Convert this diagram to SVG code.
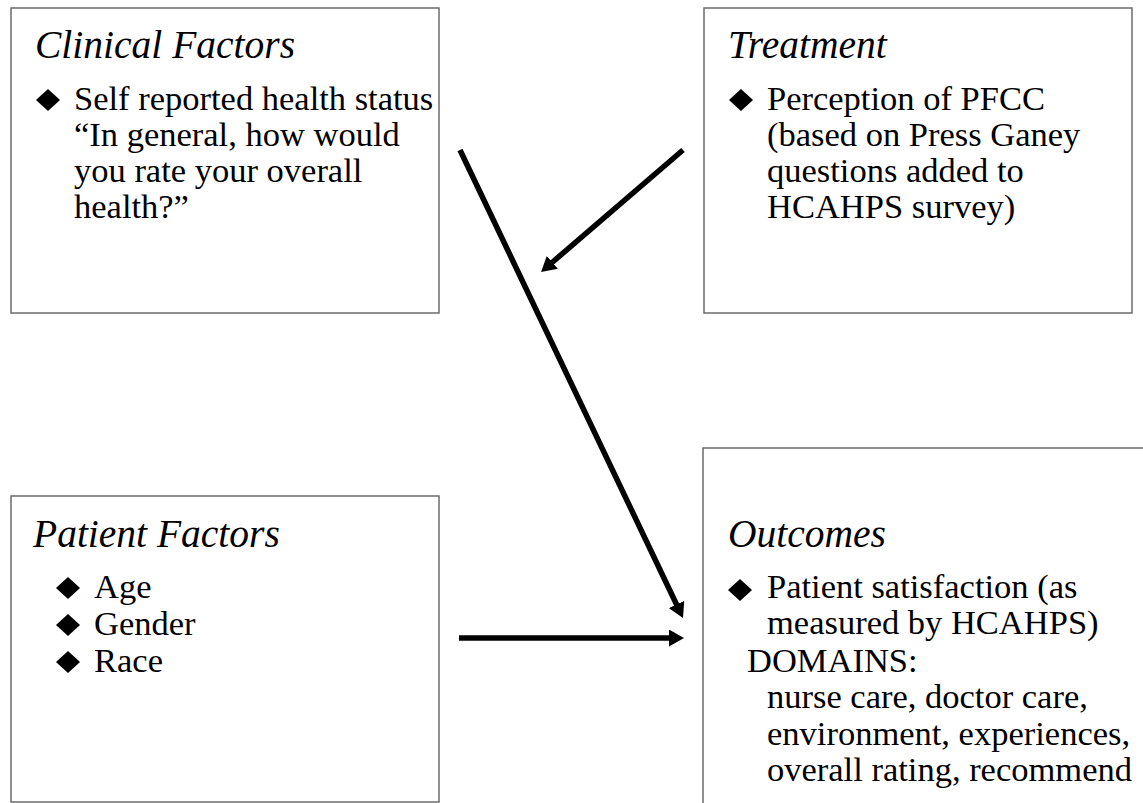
<svg xmlns="http://www.w3.org/2000/svg" width="1143" height="803" viewBox="0 0 1143 803">
<style>
.box{fill:#fff;stroke:#6b6b6b;stroke-width:1.5}
.t{font-family:'Liberation Serif', serif;font-size:34.5px;fill:#000}
.h{font-family:'Liberation Serif', serif;font-size:39.5px;font-style:italic;fill:#000}
.b{fill:#000}
.c{stroke:#000;stroke-width:5.5;fill:none}
</style>
<defs>
<marker id="ah" markerUnits="userSpaceOnUse" markerWidth="16" markerHeight="17" viewBox="0 0 16 17" refX="5" refY="8.5" orient="auto">
<path d="M0,0 L15,8.5 L0,17 z" fill="#000"/>
</marker>
</defs>
<rect width="1143" height="803" fill="#fff"/>
<g id="clinical">
<rect class="box" x="11" y="8" width="428" height="305"/>
<text class="h" font-family="Liberation Serif" x="35" y="58">Clinical Factors</text>
<polygon class="b" points="48,89 60,100 48,111 36,100"/>
<text class="t" font-family="Liberation Serif" x="74" y="110">Self reported health status</text>
<text class="t" font-family="Liberation Serif" x="74" y="146">&#8220;In general, how would</text>
<text class="t" font-family="Liberation Serif" x="74" y="182">you rate your overall</text>
<text class="t" font-family="Liberation Serif" x="74" y="218">health?&#8221;</text>
</g>
<g id="treatment">
<rect class="box" x="704" y="8" width="428" height="305"/>
<text class="h" font-family="Liberation Serif" x="728" y="58">Treatment</text>
<polygon class="b" points="741,89 753,100 741,111 729,100"/>
<text class="t" font-family="Liberation Serif" x="767" y="110">Perception of PFCC</text>
<text class="t" font-family="Liberation Serif" x="767" y="146">(based on Press Ganey</text>
<text class="t" font-family="Liberation Serif" x="767" y="182">questions added to</text>
<text class="t" font-family="Liberation Serif" x="767" y="218">HCAHPS survey)</text>
</g>
<g id="patient">
<rect class="box" x="11" y="496" width="428" height="306"/>
<text class="h" font-family="Liberation Serif" x="33" y="547">Patient Factors</text>
<polygon class="b" points="68,577 80,588 68,599 56,588"/>
<polygon class="b" points="68,614 80,625 68,636 56,625"/>
<polygon class="b" points="68,651 80,662 68,673 56,662"/>
<text class="t" font-family="Liberation Serif" x="94" y="598">Age</text>
<text class="t" font-family="Liberation Serif" x="94" y="635">Gender</text>
<text class="t" font-family="Liberation Serif" x="94" y="672">Race</text>
</g>
<g id="outcomes">
<path class="box" d="M703,810 L703,448 L1150,448"/>
<text class="h" font-family="Liberation Serif" x="728" y="547">Outcomes</text>
<polygon class="b" points="740,579 752,590 740,601 728,590"/>
<text class="t" font-family="Liberation Serif" x="767" y="598">Patient satisfaction (as</text>
<text class="t" font-family="Liberation Serif" x="767" y="634">measured by HCAHPS)</text>
<text class="t" font-family="Liberation Serif" x="747" y="672">DOMAINS:</text>
<text class="t" font-family="Liberation Serif" x="767" y="708">nurse care, doctor care,</text>
<text class="t" font-family="Liberation Serif" x="767" y="745">environment, experiences,</text>
<text class="t" font-family="Liberation Serif" x="767" y="781">overall rating, recommend</text>
</g>
<g id="connectors">
<line class="c" marker-end="url(#ah)" x1="460" y1="150" x2="678.7" y2="609"/>
<line class="c" marker-end="url(#ah)" x1="683" y1="150" x2="548.6" y2="265.5"/>
<line class="c" marker-end="url(#ah)" x1="459" y1="638" x2="674" y2="638"/>
</g>
</svg>
